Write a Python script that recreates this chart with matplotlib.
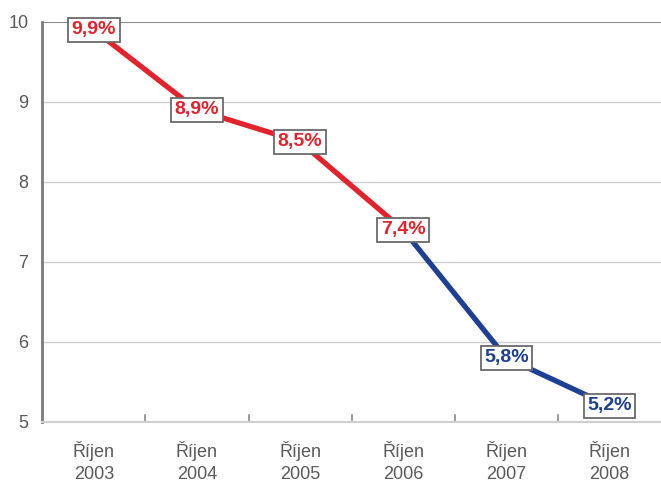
import matplotlib
matplotlib.use("Agg")
import matplotlib.pyplot as plt

plt.rcParams["font.family"] = ["Liberation Sans", "DejaVu Sans"]

# data
categories = ["Říjen\n2003", "Říjen\n2004", "Říjen\n2005",
              "Říjen\n2006", "Říjen\n2007", "Říjen\n2008"]
values = [9.9, 8.9, 8.5, 7.4, 5.8, 5.2]
labels = ["9,9%", "8,9%", "8,5%", "7,4%", "5,8%", "5,2%"]
split = 3  # od indexu 3 modrá

RED = "#e3222b"
BLUE = "#1d3f94"
GRAY = "#5a5a5a"

fig = plt.figure(figsize=(6.61, 4.86), dpi=100)
ax = fig.add_axes([0.064, 0.132, 0.936, 0.823])

x = list(range(len(values)))
ax.plot(x[:split + 1], values[:split + 1], color=RED, lw=3.8,
        solid_capstyle="butt", zorder=2)
ax.plot(x[split:], values[split:], color=BLUE, lw=3.8,
        solid_capstyle="butt", zorder=2)

for i, (v, t) in enumerate(zip(values, labels)):
    c = RED if i < split + 1 else BLUE
    ax.text(i, v, t, ha="center", va="center", color=c, fontsize=14,
            fontweight="bold", zorder=3,
            bbox=dict(boxstyle="square,pad=0.18", fc="white", ec="#6a6a6a", lw=1.3))

ax.set_xlim(-0.5, 5.5)
ax.set_ylim(5, 10)
ax.set_yticks([5, 6, 7, 8, 9, 10])
ax.set_yticklabels(["5", "6", "7", "8", "9", "10"])
for yv in [6, 7, 8, 9]:
    ax.axhline(yv, color="#cfcfcf", lw=1.0, zorder=1)
ax.axhline(10, color="#8a8a8a", lw=1.5, zorder=1)

ax.set_xticks(x)
ax.set_xticklabels(categories, linespacing=1.35)
ax.tick_params(axis="x", length=0, pad=14, labelsize=13, labelcolor=GRAY)
ax.tick_params(axis="y", length=0, pad=10, labelsize=13, labelcolor=GRAY)

# drobné značky mezi kategoriemi
for b in [0.5, 1.5, 2.5, 3.5, 4.5]:
    ax.plot([b, b], [5.0, 5.09], color="#8a8a8a", lw=1.2, clip_on=False, zorder=1)

for s in ["top", "right"]:
    ax.spines[s].set_visible(False)
ax.spines["left"].set_color("#7a7a7a")
ax.spines["left"].set_linewidth(2)
ax.spines["bottom"].set_color("#cfcfcf")
ax.spines["bottom"].set_linewidth(1.5)

fig.savefig("out.png", dpi=100)
